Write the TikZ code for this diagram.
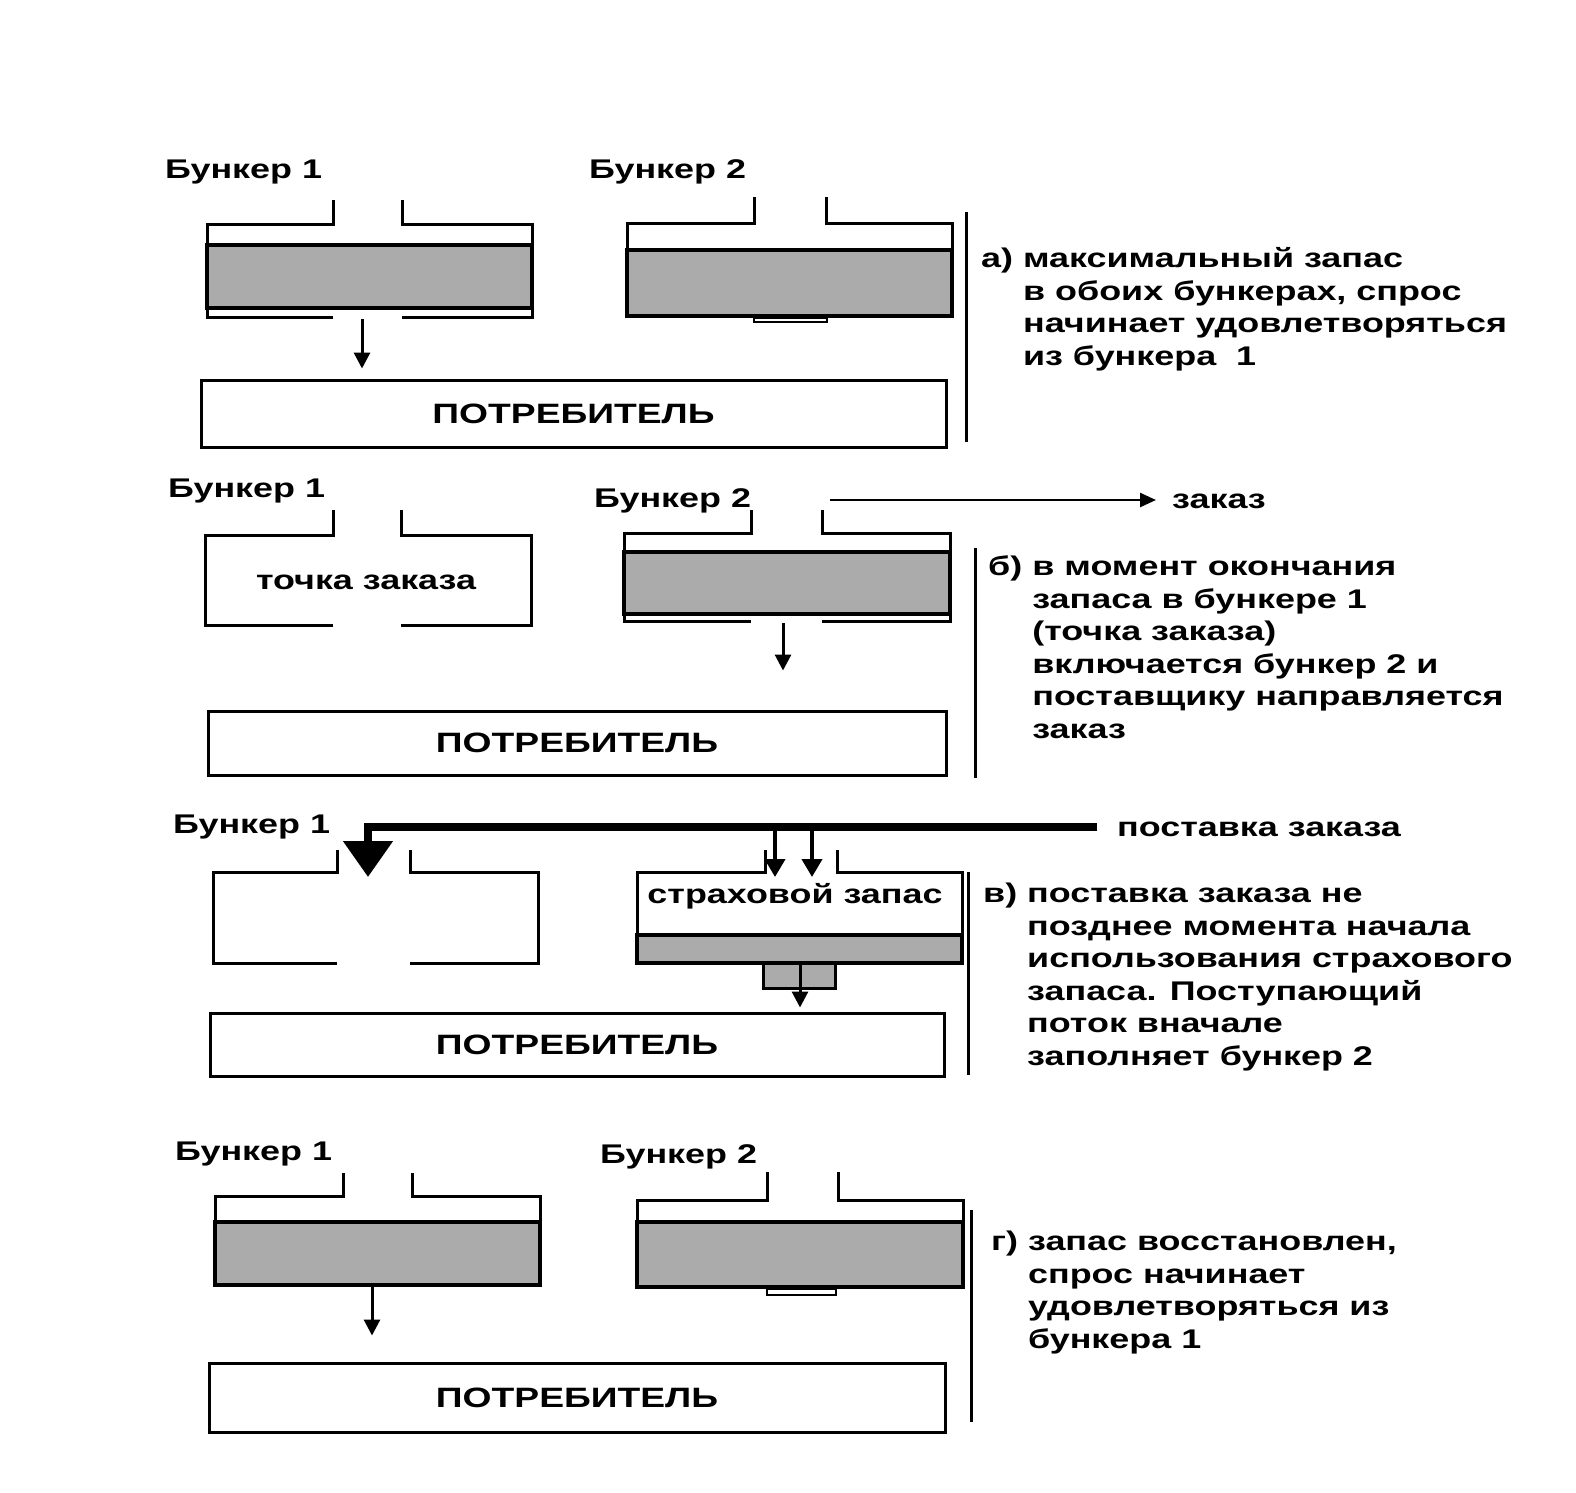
\documentclass[tikz,border=0pt]{standalone}
\usepackage{fontspec}
\setmainfont{Liberation Sans}[FakeStretch=1.33]
\usetikzlibrary{arrows.meta}
\begin{document}
\begin{tikzpicture}[x=1pt,y=-1pt,
  wall/.style={line width=3pt,line join=miter},
  stock/.style={fill=black!33,draw=black,line width=4pt},
  outlet/.style={draw=black,line width=2.5pt},
  flow/.style={line width=3pt,-{Triangle[length=16pt,width=16pt]}},
  cons/.style={draw,line width=3pt,minimum height=0pt,inner sep=0pt,font=\fontsize{28}{32}\selectfont\bfseries},
  lbl/.style={anchor=west,inner sep=0pt,yshift=-4pt,font=\fontsize{27}{32}\selectfont\bfseries},
  desc/.style={anchor=base west,inner sep=0pt,align=left,font=\fontsize{27}{32.5}\selectfont\bfseries},
  divider/.style={line width=3pt}]
\useasboundingbox (0,0) rectangle (1576,1492);
\fill[white] (0,0) rectangle (1576,1492);

% ---------------- panel a ----------------
\node[lbl] (a-b1) at (165,168) {Бункер 1};
\node[lbl] (a-b2) at (589,168) {Бункер 2};
\filldraw[stock] (207,245) rectangle (532,308);
\draw[wall] (333,200) -- (333,224) -- (207,224) -- (207,317) -- (333,317);
\draw[wall] (402,200) -- (402,224) -- (532,224) -- (532,317) -- (402,317);
\filldraw[stock] (627,250) rectangle (952,316);
\draw[wall] (754,197) -- (754,223) -- (627,223) -- (627,316);
\draw[wall] (826,197) -- (826,223) -- (952,223) -- (952,316);
\draw[outlet] (754,318) rectangle (827,322);
\node[cons,minimum width=745pt,minimum height=67pt] (consA) at (573.5,413.5) {ПОТРЕБИТЕЛЬ};
\coordinate (aout) at (362,319);
\draw[flow,shorten >=10pt] (aout) -- (aout |- consA.north);
\coordinate (adivT) at (966,212);
\coordinate (adivB) at (966,442);
\draw[divider] (adivT) -- (adivB);
\node[desc] (adesc) at (981,365) {а)~максимальный запас\\
\hphantom{а)~}в обоих бункерах, спрос\\
\hphantom{а)~}начинает удовлетворяться\\
\hphantom{а)~}из бункера~~1};

% ---------------- panel b ----------------
\node[lbl] (b-b1) at (168,487) {Бункер 1};
\node[lbl] (b-b2) at (594,497) {Бункер 2};
\draw[wall] (333,510) -- (333,535) -- (205,535) -- (205,625) -- (333,625);
\draw[wall] (401,510) -- (401,535) -- (531,535) -- (531,625) -- (401,625);
\node[lbl,anchor=center] (bpoint) at (366,578) {точка заказа};
\filldraw[stock] (624,552) rectangle (950,614);
\draw[wall] (751,510) -- (751,533) -- (624,533) -- (624,621) -- (751,621);
\draw[wall] (822,510) -- (822,533) -- (950,533) -- (950,621) -- (822,621);
\node[cons,minimum width=738pt,minimum height=64pt] (consB) at (577,743) {ПОТРЕБИТЕЛЬ};
\coordinate (bout) at (783,623);
\draw[flow,shorten >=39pt] (bout) -- (bout |- consB.north);
\node[lbl] (order) at (1172,497) {заказ};
\coordinate (orderstart) at (830,500);
\draw[line width=2.5pt,-{Triangle[length=16pt,width=14pt]},shorten >=16pt] (orderstart) -- (orderstart -| order.west);
\coordinate (bdivT) at (975,548);
\coordinate (bdivB) at (975,778);
\draw[divider] (bdivT) -- (bdivB);
\node[desc] (bdesc) at (988,738) {б)~в момент окончания\\
\hphantom{б)~}запаса в бункере 1\\
\hphantom{б)~}(точка заказа)\\
\hphantom{б)~}включается бункер 2 и\\
\hphantom{б)~}поставщику направляется\\
\hphantom{б)~}заказ};

% ---------------- panel v ----------------
\node[lbl] (v-b1) at (173,823) {Бункер 1};
\node[lbl] (supply) at (1117,825) {поставка заказа};
\coordinate (supR) at (1097,827);
\coordinate (supL) at (368,827);
\coordinate (supTip) at (368,877);
\draw[line width=8pt,line join=miter,-{Triangle[length=36pt,width=48pt]}] (supR) -- (supL) -- (supTip);
\draw[wall] (337,850) -- (337,872) -- (213,872) -- (213,963) -- (337,963);
\draw[wall] (410,850) -- (410,872) -- (538,872) -- (538,963) -- (410,963);
\filldraw[stock] (637,935) rectangle (962,963);
\draw[wall] (765,850) -- (765,872) -- (637,872) -- (637,963);
\draw[wall] (837,850) -- (837,872) -- (962,872) -- (962,963);
\node[lbl,anchor=center] (safety) at (795,892) {страховой запас};
\filldraw[fill=black!33,draw=black,line width=3pt] (763,963) rectangle (835,988);
\coordinate (vin1) at (775,829);
\coordinate (vin2) at (812,829);
\draw[line width=4pt,-{Triangle[length=18pt,width=20pt]}] (vin1) -- ++(0,48);
\draw[line width=4pt,-{Triangle[length=18pt,width=20pt]}] (vin2) -- ++(0,48);
\node[cons,minimum width=734pt,minimum height=63pt] (consV) at (577,1044.5) {ПОТРЕБИТЕЛЬ};
\coordinate (vout) at (800,965);
\draw[flow,shorten >=4pt] (vout) -- (vout |- consV.north);
\coordinate (vdivT) at (968,872);
\coordinate (vdivB) at (968,1075);
\draw[divider] (vdivT) -- (vdivB);
\node[desc] (vdesc) at (983,1065) {в)~поставка заказа не\\
\hphantom{в)~}позднее момента начала\\
\hphantom{в)~}использования страхового\\
\hphantom{в)~}запаса. Поступающий\\
\hphantom{в)~}поток вначале\\
\hphantom{в)~}заполняет бункер 2};

% ---------------- panel g ----------------
\node[lbl] (g-b1) at (175,1150) {Бункер 1};
\node[lbl] (g-b2) at (600,1153) {Бункер 2};
\filldraw[stock] (215,1222) rectangle (540,1285);
\draw[wall] (343,1173) -- (343,1196) -- (215,1196) -- (215,1285);
\draw[wall] (412,1173) -- (412,1196) -- (540,1196) -- (540,1285);
\filldraw[stock] (637,1222) rectangle (963,1287);
\draw[wall] (767,1172) -- (767,1200) -- (637,1200) -- (637,1287);
\draw[wall] (838,1172) -- (838,1200) -- (963,1200) -- (963,1287);
\draw[outlet] (767,1289) rectangle (836,1295);
\node[cons,minimum width=736pt,minimum height=69pt] (consG) at (577,1397.5) {ПОТРЕБИТЕЛЬ};
\coordinate (gout) at (372,1287);
\draw[flow,shorten >=26pt] (gout) -- (gout |- consG.north);
\coordinate (gdivT) at (971,1210);
\coordinate (gdivB) at (971,1422);
\draw[divider] (gdivT) -- (gdivB);
\node[desc] (gdesc) at (991,1348) {г)~запас восстановлен,\\
\hphantom{г)~}спрос начинает\\
\hphantom{г)~}удовлетворяться из\\
\hphantom{г)~}бункера 1};
\end{tikzpicture}
\end{document}
